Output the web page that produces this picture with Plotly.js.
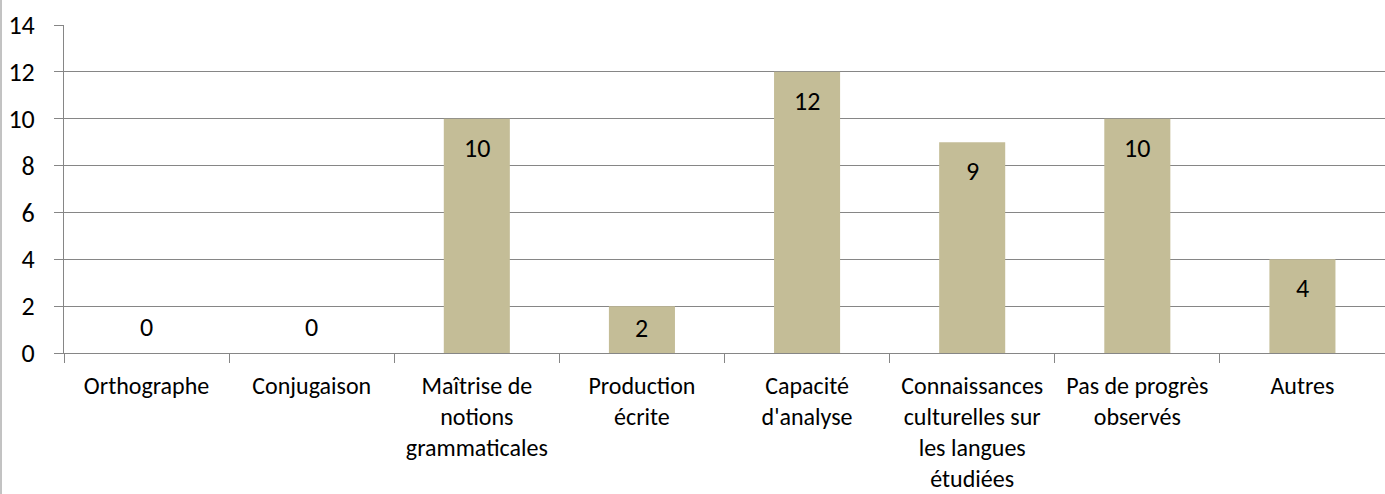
<!DOCTYPE html>
<html><head><meta charset="utf-8">
<script src="https://cdn.plot.ly/plotly-3.0.1.min.js"></script>
<style>html,body{margin:0;padding:0;background:#fff}#c{width:1385px;height:494px}</style>
</head><body><div id="c"></div>
<script>
const categories = ["Orthographe","Conjugaison","Maîtrise de<br>notions<br>grammaticales","Production<br>écrite","Capacité<br>d'analyse","Connaissances<br>culturelles sur<br>les langues<br>étudiées","Pas de progrès<br>observés","Autres"];
const values = [0,0,10,2,12,9,10,4];
const yTicks = [0,2,4,6,8,10,12,14];

const font = {family:"Carlito, Calibri, 'Open Sans', 'Liberation Sans', sans-serif", size:26, color:"#000"};
const xFont = Object.assign({}, font, {size:24});
const plotH = 328, yMax = 14;
const annotations = values.map((v,i)=>{
  const hpx = v*plotH/yMax;
  return {
    x: categories[i], y: v, xref:'x', yref:'y', text: String(v), showarrow:false,
    yanchor:'middle', yshift: v>0 ? -Math.min(29, hpx/2 - 2) : 26, font: font
  };
});

Plotly.newPlot('c', [{
  type:'bar', x: categories, y: values,
  marker:{color:'#C4BD97'}, hoverinfo:'none'
}], {
  width:1385, height:494,
  margin:{l:64, r:0, t:25, b:141},
  paper_bgcolor:'#fff', plot_bgcolor:'#fff',
  bargap:0.6, showlegend:false,
  font: font,
  xaxis:{type:'category', tickson:'boundaries', ticks:'outside', ticklen:9, tickcolor:'#868686',
    showline:true, linecolor:'#868686', linewidth:1, showgrid:false, tickfont:xFont,
    ticklabelstandoff:11, fixedrange:true},
  yaxis:{range:[0,yMax], tickvals:yTicks, ticktext:yTicks.map(String), ticks:'outside', ticklen:9, tickcolor:'#868686',
    showline:true, linecolor:'#868686', gridcolor:'#868686', gridwidth:1, zeroline:false,
    tickfont:font, ticklabelstandoff:14, fixedrange:true},
  annotations: annotations,
  shapes:[{type:'line', xref:'paper', yref:'paper', x0:-63/1321, x1:-63/1321, y0:-141/328, y1:1+25/328,
    line:{color:'#868686', width:1}}]
}, {staticPlot:true});
</script></body></html>
